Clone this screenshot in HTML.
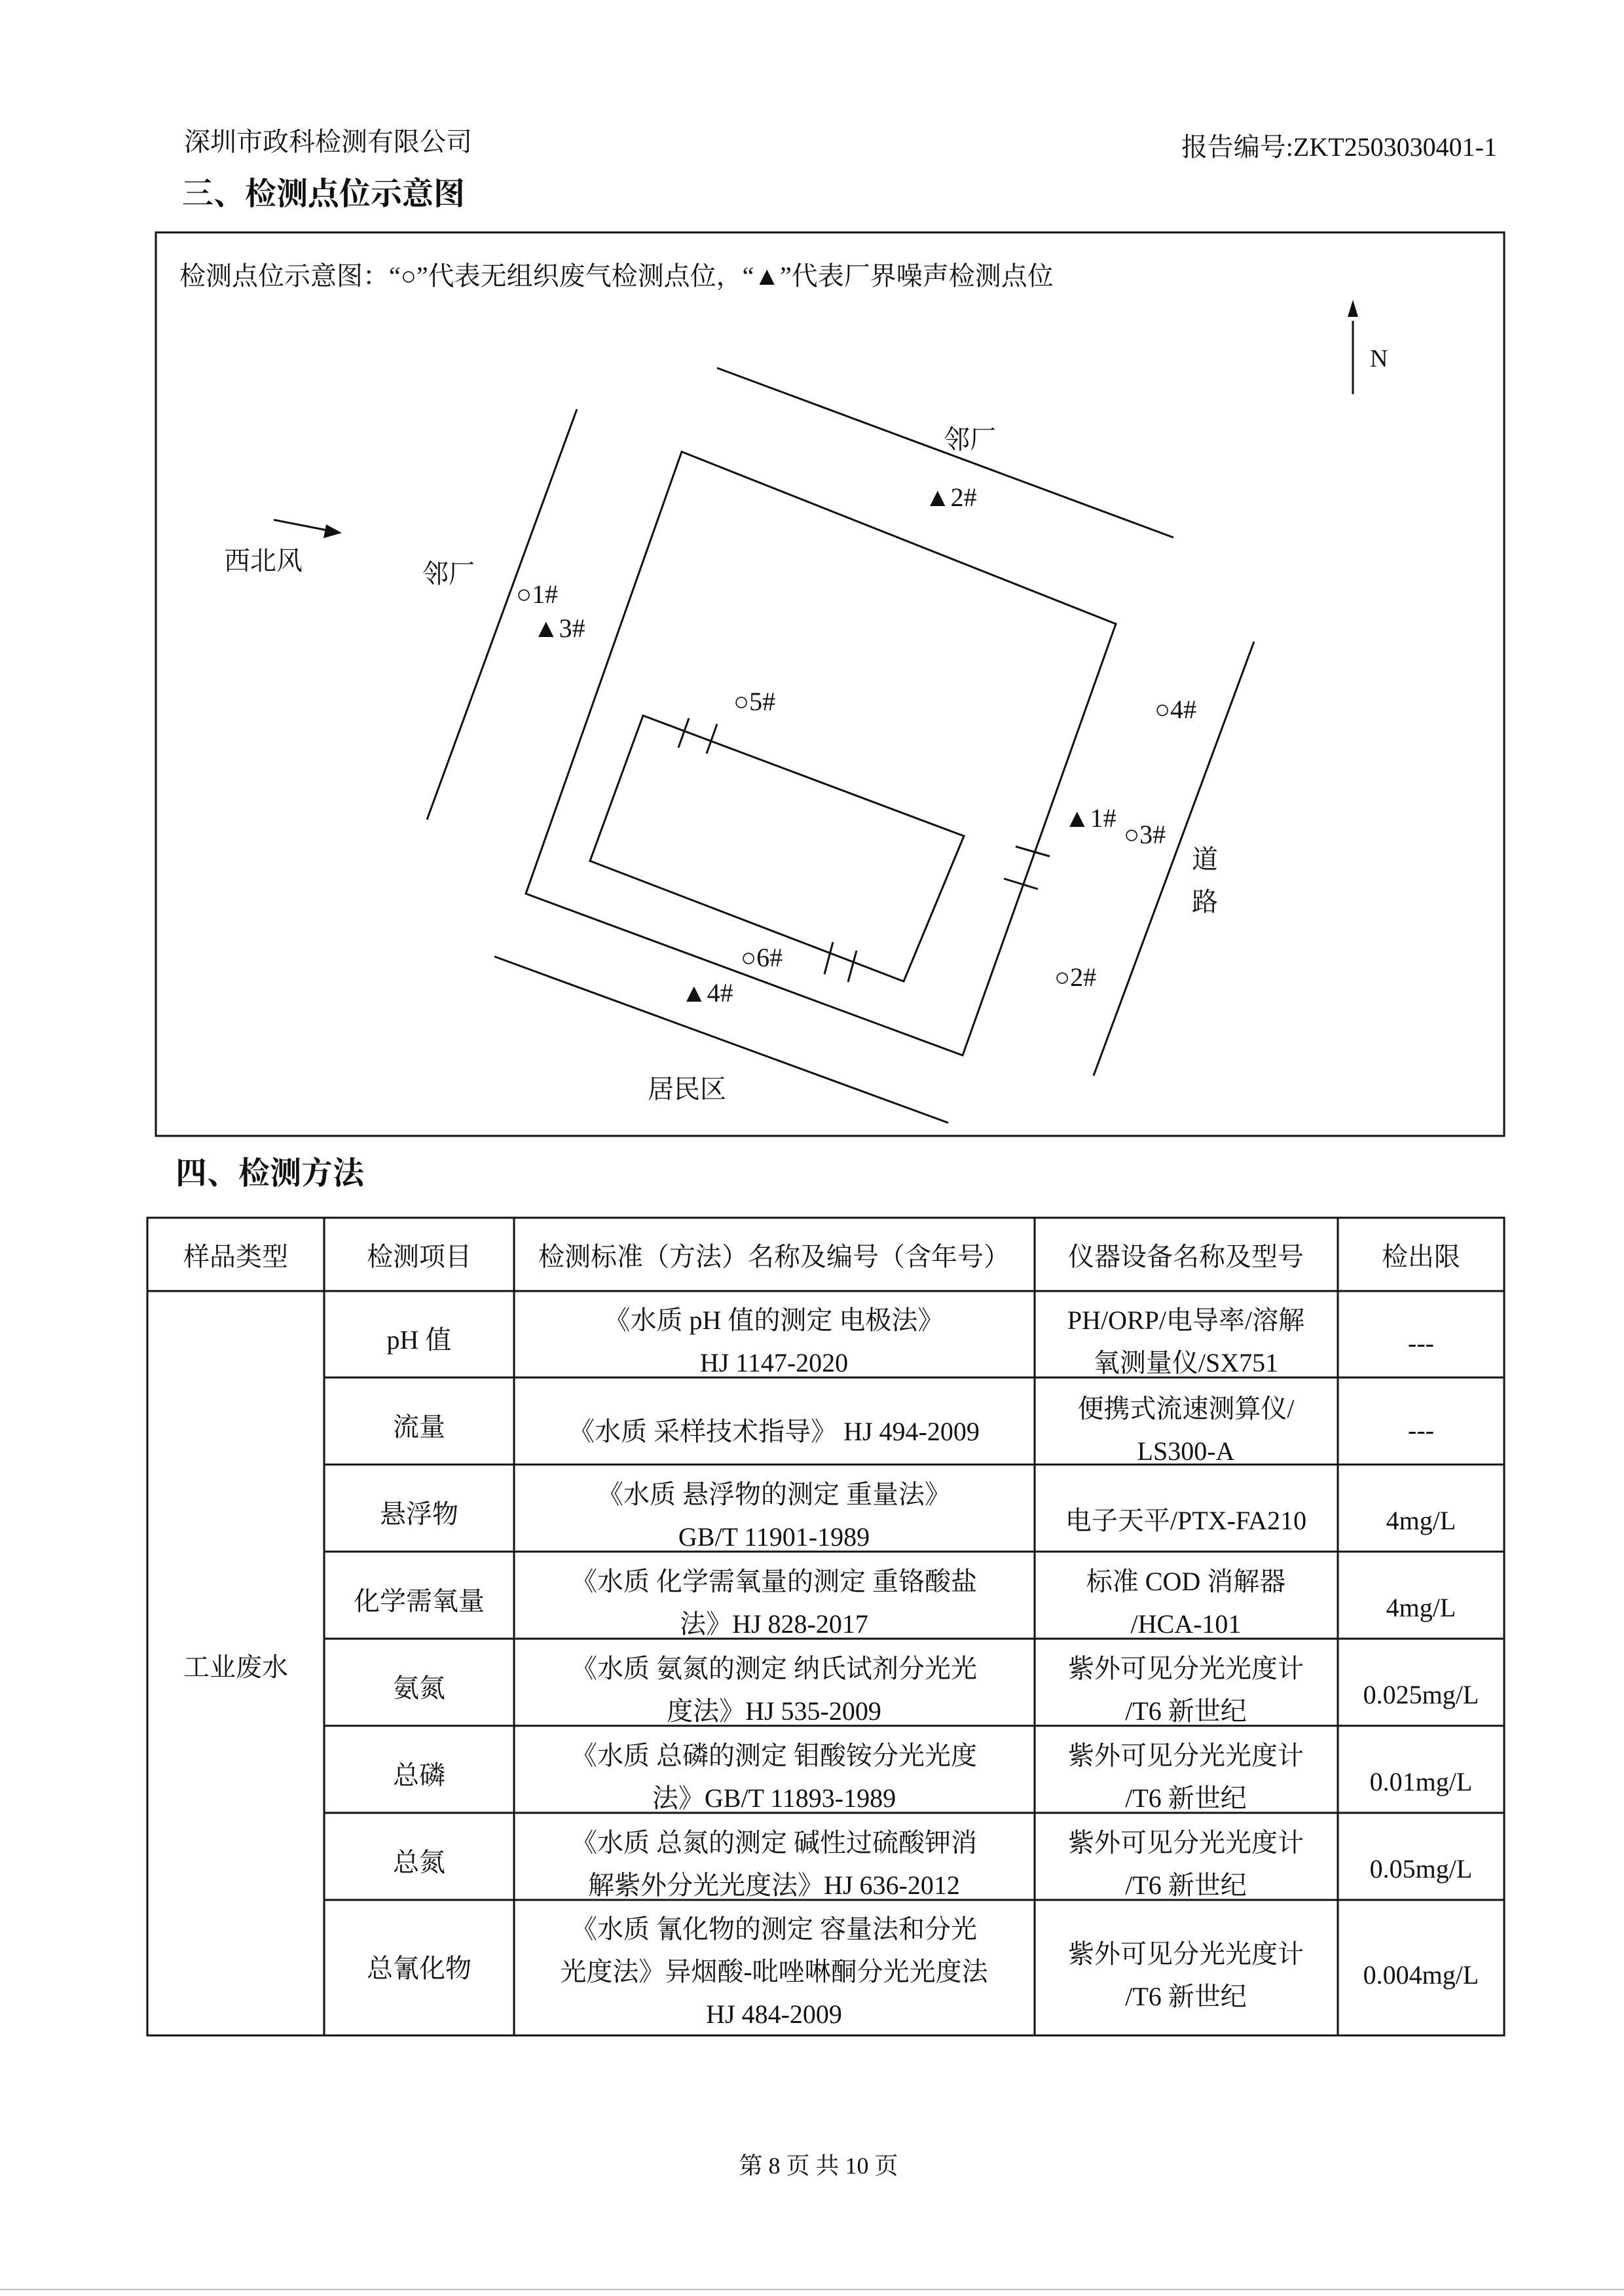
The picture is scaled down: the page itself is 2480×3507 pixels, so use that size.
<!DOCTYPE html>
<html><head><meta charset="utf-8"><style>
html,body{margin:0;padding:0;background:#fff;}
svg{display:block;}
text{font-family:"Liberation Serif","Noto Serif CJK SC","Noto Sans CJK SC",serif;fill:#111;}
</style></head><body>
<svg width="2480" height="3507" viewBox="0 0 2480 3507" xmlns="http://www.w3.org/2000/svg">
<rect width="2480" height="3507" fill="#fff"/>
<text x="281" y="230" font-size="40">深圳市政科检测有限公司</text>
<text x="2286" y="238" font-size="40" text-anchor="end">报告编号:ZKT2503030401-1</text>
<text x="278" y="312" font-size="48" font-weight="bold">三、检测点位示意图</text>
<rect x="238" y="355" width="2059" height="1380" fill="none" stroke="#111" stroke-width="3"/>
<text x="274" y="435" font-size="40">检测点位示意图：“○”代表无组织废气检测点位，“▲”代表厂界噪声检测点位</text>
<!-- north -->
<line x1="2066" y1="602" x2="2066" y2="490" stroke="#111" stroke-width="3"/>
<polygon points="2066,458 2058,484 2074,484" fill="#111"/>
<text x="2092" y="560" font-size="38">N</text>
<!-- boundary lines -->
<g stroke="#111" stroke-width="3" fill="none">
<line x1="1095" y1="562" x2="1792" y2="821"/>
<line x1="881" y1="625" x2="652" y2="1252"/>
<line x1="1915" y1="980" x2="1670" y2="1643"/>
<line x1="755" y1="1461" x2="1448" y2="1715"/>
<polygon points="1041,690 1704,953 1470,1612 803,1365"/>
<polygon points="982,1093 1472,1277 1380,1499 901,1315"/>
<line x1="1052" y1="1097" x2="1036" y2="1142"/>
<line x1="1095" y1="1106" x2="1079" y2="1151"/>
<line x1="1551" y1="1293" x2="1603" y2="1308"/>
<line x1="1533" y1="1342" x2="1585" y2="1358"/>
<line x1="1272" y1="1439" x2="1259" y2="1488"/>
<line x1="1308" y1="1452" x2="1295" y2="1500"/>
<line x1="418" y1="794" x2="505" y2="811"/>
</g>
<polygon points="522,814 498,801 494,822" fill="#111"/>
<g font-size="40">
<text x="342" y="870">西北风</text>
<text x="645" y="890">邻厂</text>
<text x="1441" y="685">邻厂</text>
<text x="1412" y="773">▲2#</text>
<text x="788" y="921">○1#</text>
<text x="814" y="973">▲3#</text>
<text x="1120" y="1085">○5#</text>
<text x="1763" y="1097">○4#</text>
<text x="1625" y="1263">▲1#</text>
<text x="1716" y="1288">○3#</text>
<text x="1820" y="1326">道</text>
<text x="1820" y="1391">路</text>
<text x="1610" y="1506">○2#</text>
<text x="1131" y="1476">○6#</text>
<text x="1040" y="1530">▲4#</text>
<text x="989" y="1677">居民区</text>
</g>
<text x="268" y="1808" font-size="48" font-weight="bold">四、检测方法</text>
<!-- table -->
<g stroke="#111" stroke-width="3" fill="none">
<rect x="225" y="1860" width="2072" height="1249"/>
<line x1="495" y1="1860" x2="495" y2="3109"/>
<line x1="785" y1="1860" x2="785" y2="3109"/>
<line x1="1580" y1="1860" x2="1580" y2="3109"/>
<line x1="2043" y1="1860" x2="2043" y2="3109"/>
<line x1="225" y1="1972" x2="2297" y2="1972"/>
<line x1="495" y1="2104" x2="2297" y2="2104"/>
<line x1="495" y1="2237" x2="2297" y2="2237"/>
<line x1="495" y1="2370" x2="2297" y2="2370"/>
<line x1="495" y1="2503" x2="2297" y2="2503"/>
<line x1="495" y1="2636" x2="2297" y2="2636"/>
<line x1="495" y1="2769" x2="2297" y2="2769"/>
<line x1="495" y1="2902" x2="2297" y2="2902"/>
</g>
<g font-size="40" text-anchor="middle">
<text x="360" y="1933">样品类型</text>
<text x="640" y="1933">检测项目</text>
<text x="1182" y="1933">检测标准（方法）名称及编号（含年号）</text>
<text x="1811" y="1933">仪器设备名称及型号</text>
<text x="2170" y="1933">检出限</text>
<text x="360" y="2560">工业废水</text>
<text x="640" y="2060">pH 值</text>
<text x="1182" y="2030">《水质  pH 值的测定  电极法》</text>
<text x="1182" y="2095">HJ 1147-2020</text>
<text x="1811" y="2030">PH/ORP/电导率/溶解</text>
<text x="1811" y="2095">氧测量仪/SX751</text>
<text x="2170" y="2065">---</text>
<text x="640" y="2193">流量</text>
<text x="1182" y="2200">《水质  采样技术指导》  HJ 494-2009</text>
<text x="1811" y="2165">便携式流速测算仪/</text>
<text x="1811" y="2230">LS300-A</text>
<text x="2170" y="2198">---</text>
<text x="640" y="2326">悬浮物</text>
<text x="1182" y="2296">《水质  悬浮物的测定  重量法》</text>
<text x="1182" y="2361">GB/T 11901-1989</text>
<text x="1811" y="2336">电子天平/PTX-FA210</text>
<text x="2170" y="2336">4mg/L</text>
<text x="640" y="2459">化学需氧量</text>
<text x="1182" y="2429">《水质  化学需氧量的测定  重铬酸盐</text>
<text x="1182" y="2494">法》HJ 828-2017</text>
<text x="1811" y="2429">标准 COD 消解器</text>
<text x="1811" y="2494">/HCA-101</text>
<text x="2170" y="2469">4mg/L</text>
<text x="640" y="2592">氨氮</text>
<text x="1182" y="2562">《水质  氨氮的测定  纳氏试剂分光光</text>
<text x="1182" y="2627">度法》HJ 535-2009</text>
<text x="1811" y="2562">紫外可见分光光度计</text>
<text x="1811" y="2627">/T6 新世纪</text>
<text x="2170" y="2602">0.025mg/L</text>
<text x="640" y="2725">总磷</text>
<text x="1182" y="2695">《水质  总磷的测定  钼酸铵分光光度</text>
<text x="1182" y="2760">法》GB/T 11893-1989</text>
<text x="1811" y="2695">紫外可见分光光度计</text>
<text x="1811" y="2760">/T6 新世纪</text>
<text x="2170" y="2735">0.01mg/L</text>
<text x="640" y="2858">总氮</text>
<text x="1182" y="2828">《水质  总氮的测定  碱性过硫酸钾消</text>
<text x="1182" y="2893">解紫外分光光度法》HJ 636-2012</text>
<text x="1811" y="2828">紫外可见分光光度计</text>
<text x="1811" y="2893">/T6 新世纪</text>
<text x="2170" y="2868">0.05mg/L</text>
<text x="640" y="3020">总氰化物</text>
<text x="1182" y="2960">《水质  氰化物的测定  容量法和分光</text>
<text x="1182" y="3025">光度法》异烟酸-吡唑啉酮分光光度法</text>
<text x="1182" y="3090">HJ 484-2009</text>
<text x="1811" y="2998">紫外可见分光光度计</text>
<text x="1811" y="3063">/T6 新世纪</text>
<text x="2170" y="3030">0.004mg/L</text>
</g>
<text x="1250" y="3320" font-size="36" text-anchor="middle">第 8 页 共 10 页</text>
<line x1="0" y1="3497" x2="2480" y2="3497" stroke="#bbb" stroke-width="2"/>
</svg>
</body></html>
